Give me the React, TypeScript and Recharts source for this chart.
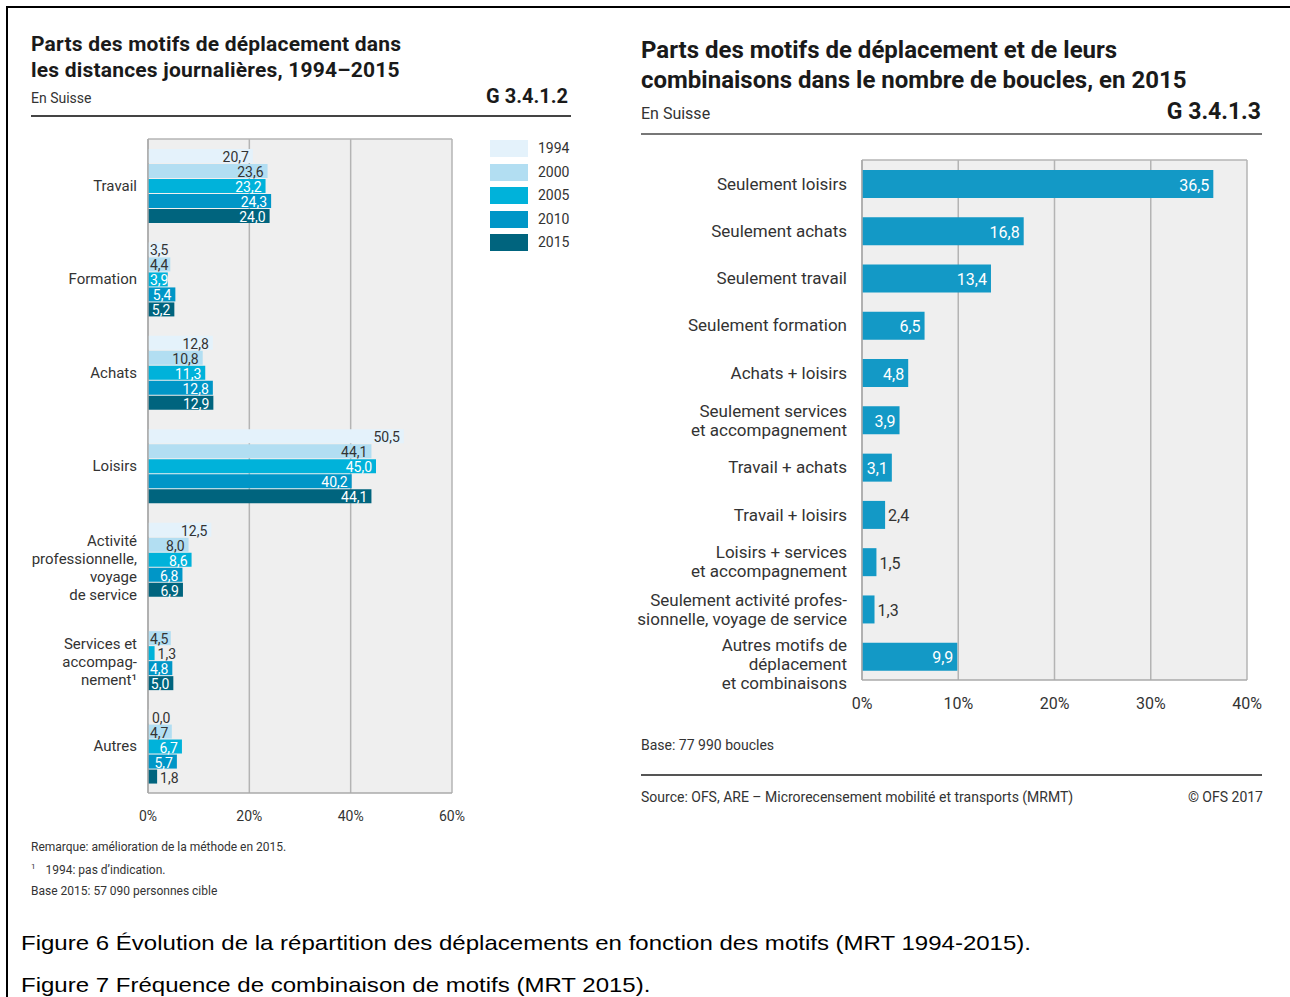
import React from 'react';
import { Bar, BarChart, CartesianGrid, LabelList, XAxis, YAxis } from 'recharts';

// G 3.4.1.2 – parts des motifs dans les distances journalières
const motifs = [
  'Travail',
  'Formation',
  'Achats',
  'Loisirs',
  'Activité\nprofessionnelle,\nvoyage\nde service',
  'Services et\naccompag-\nnement¹',
  'Autres',
];
const years = ['1994', '2000', '2005', '2010', '2015'];
const parts1994 = [20.7, 3.5, 12.8, 50.5, 12.5, null, 0.0];
const parts2000 = [23.6, 4.4, 10.8, 44.1, 8.0, 4.5, 4.7];
const parts2005 = [23.2, 3.9, 11.3, 45.0, 8.6, 1.3, 6.7];
const parts2010 = [24.3, 5.4, 12.8, 40.2, 6.8, 4.8, 5.7];
const parts2015 = [24.0, 5.2, 12.9, 44.1, 6.9, 5.0, 1.8];
const leftTicks = [0, 20, 40, 60];

// G 3.4.1.3 – motifs et combinaisons dans le nombre de boucles
const combinaisons = [
  'Seulement loisirs',
  'Seulement achats',
  'Seulement travail',
  'Seulement formation',
  'Achats + loisirs',
  'Seulement services\net accompagnement',
  'Travail + achats',
  'Travail + loisirs',
  'Loisirs + services\net accompagnement',
  'Seulement activité profes-\nsionnelle, voyage de service',
  'Autres motifs de\ndéplacement\net combinaisons',
];
const partsBoucles = [36.5, 16.8, 13.4, 6.5, 4.8, 3.9, 3.1, 2.4, 1.5, 1.3, 9.9];
const rightTicks = [0, 10, 20, 30, 40];

const yearColors = ['#e4f2fb', '#b2def2', '#00b2da', '#0096c7', '#00647e'];
const yearLabelFill = ['#333', '#333', '#fff', '#fff', '#fff'];
const bouclesColor = '#1399c6';

const FONT = 'Roboto, "DejaVu Sans", sans-serif';
const CAPTION_FONT = '"Liberation Sans", Arial, sans-serif';
const TEXT = '#333';

const seriesByYear = [parts1994, parts2000, parts2005, parts2010, parts2015];
const leftData = motifs.map((name, i) => {
  const row: Record<string, any> = { name };
  years.forEach((y, k) => (row['y' + y] = seriesByYear[k][i]));
  return row;
});
const rightData = combinaisons.map((name, i) => ({ name, value: partsBoucles[i] }));

function MultiLineTick(props: any) {
  const { x, y, payload, fontSize, lineHeight, shift } = props;
  const lines = String(payload.value).split('\n');
  const off = lines.length > 2 ? shift : 0;
  const startY = y - ((lines.length - 1) * lineHeight) / 2 + off;
  return (
    <text x={x} y={startY} textAnchor="end" fontSize={fontSize} fill={TEXT} fontFamily={FONT} dominantBaseline="central">
      {lines.map((l, i) => (
        <tspan key={i} x={x} y={startY + i * lineHeight}>{l}</tspan>
      ))}
    </text>
  );
}

// inside the bar end when it fits, pushed right when the bar is short, outside when tiny
function valueLabel(fill: string, fontSize: number, minInside: number) {
  return (props: any) => {
    const { x, y, width, height, value } = props;
    if (value == null) return null;
    const txt = Number(value).toFixed(1).replace('.', ',');
    const w = Number(width) || 0;
    const inside = w >= minInside;
    const textW = (txt.length - 1) * 0.56 * fontSize + 0.25 * fontSize;
    let tx = x + w + 3;
    let anchor = 'start';
    if (inside) {
      if (w - 4 >= textW + 2) {
        tx = x + w - 4;
        anchor = 'end';
      } else {
        tx = x + 2;
      }
    }
    return (
      <text
        x={tx}
        y={y + height / 2 + 1}
        textAnchor={anchor}
        dominantBaseline="central"
        fill={inside ? fill : TEXT}
        fontSize={fontSize}
        fontFamily={FONT}
      >
        {txt}
      </text>
    );
  };
}

const abs = (left: number, top: number, extra: React.CSSProperties = {}): React.CSSProperties => ({
  position: 'absolute', left, top, fontFamily: FONT, color: TEXT, whiteSpace: 'nowrap', ...extra,
});

function LeftChart() {
  return (
    <div style={{ position: 'absolute', left: 20, top: 130 }}>
      <BarChart width={450} height={693} data={leftData} layout="vertical" barSize={14} barGap={1}
        margin={{ top: 9, right: 18, bottom: 0, left: 0 }}>
        <CartesianGrid fill="#efefef" stroke="#b4b4b4" strokeWidth={1.5}
          horizontalCoordinatesGenerator={({ offset }: any) => [offset.top]} />
        <XAxis type="number" domain={[0, 60]} ticks={leftTicks} tickFormatter={v => `${v}%`}
          axisLine={{ stroke: '#aaa', strokeWidth: 1.5 }} tickLine={false} height={30} tickMargin={12}
          tick={{ fill: TEXT, fontSize: 14, fontFamily: FONT }} />
        <YAxis type="category" dataKey="name" width={128} axisLine={{ stroke: '#aaa', strokeWidth: 1.5 }}
          tickLine={false} tickSize={0} tickMargin={11} interval={0}
          tick={<MultiLineTick fontSize={15} lineHeight={18} shift={9} />} />
        {years.map((y, k) => (
          <Bar key={y} dataKey={'y' + y} fill={yearColors[k]} minPointSize={1} isAnimationActive={false}>
            <LabelList dataKey={'y' + y} content={valueLabel(yearLabelFill[k], 14, 12)} />
          </Bar>
        ))}
      </BarChart>
    </div>
  );
}

function RightChart() {
  return (
    <div style={{ position: 'absolute', left: 630, top: 150 }}>
      <BarChart width={640} height={580} data={rightData} layout="vertical" barSize={28}
        margin={{ top: 10, right: 23, bottom: 0, left: 0 }}>
        <CartesianGrid fill="#efefef" stroke="#b4b4b4" strokeWidth={1.5}
          horizontalCoordinatesGenerator={({ offset }: any) => [offset.top]} />
        <XAxis type="number" domain={[0, 40]} ticks={rightTicks} tickFormatter={v => `${v}%`}
          axisLine={{ stroke: '#aaa', strokeWidth: 1.5 }} tickLine={false} height={50} tickMargin={12}
          tick={{ fill: TEXT, fontSize: 16, fontFamily: FONT }} />
        <YAxis type="category" dataKey="name" width={232} axisLine={{ stroke: '#aaa', strokeWidth: 1.5 }}
          tickLine={false} tickSize={0} tickMargin={15} interval={0}
          tick={<MultiLineTick fontSize={17} lineHeight={19} shift={8} />} />
        <Bar dataKey="value" fill={bouclesColor} isAnimationActive={false}>
          <LabelList dataKey="value" content={valueLabel('#fff', 16, 25)} />
        </Bar>
      </BarChart>
    </div>
  );
}

export default function App() {
  const caption: React.CSSProperties = {
    fontFamily: CAPTION_FONT, fontSize: 21, lineHeight: '28px', color: '#000',
    transform: 'scaleX(1.144)', transformOrigin: 'left center',
  };
  return (
    <div style={{ position: 'absolute', left: 0, top: 0, width: 1290, height: 997, background: '#fff', overflow: 'hidden' }}>
      <div style={{ position: 'absolute', left: 6, top: 6, width: 1300, height: 1000, borderTop: '2px solid #000', borderLeft: '2px solid #000' }} />

      {/* left panel header */}
      <div style={abs(31, 31, { fontSize: 21, fontWeight: 700, letterSpacing: 0.2, lineHeight: '26px', color: '#1a1a1a' })}>
        Parts des motifs de déplacement dans<br />les distances journalières, 1994–2015
      </div>
      <div style={abs(31, 89, { fontSize: 14, lineHeight: '18px' })}>En Suisse</div>
      <div style={abs(420, 84, { width: 148, textAlign: 'right', fontSize: 20, fontWeight: 700, lineHeight: '24px', color: '#1a1a1a' })}>G 3.4.1.2</div>
      <div style={{ position: 'absolute', left: 31, top: 115, width: 540, height: 2, background: '#444' }} />

      <LeftChart />

      {years.map((y, k) => (
        <div key={y}>
          <div style={{ position: 'absolute', left: 490, top: 140 + k * 23.5, width: 38, height: 17, background: yearColors[k] }} />
          <div style={abs(538, 139 + k * 23.5, { fontSize: 14, lineHeight: '19px' })}>{y}</div>
        </div>
      ))}

      <div style={abs(31, 839, { fontSize: 12, lineHeight: '16px' })}>Remarque: amélioration de la méthode en 2015.</div>
      <div style={abs(31, 859, { fontSize: 12, lineHeight: '16px' })}>
        <sup style={{ fontSize: 8 }}>1</sup>
        <span style={{ marginLeft: 10 }}>1994: pas d’indication.</span>
      </div>
      <div style={abs(31, 883, { fontSize: 12, lineHeight: '16px' })}>Base 2015: 57 090 personnes cible</div>

      {/* right panel header */}
      <div style={abs(641, 35, { fontSize: 24, fontWeight: 700, lineHeight: '30px', color: '#1a1a1a' })}>
        Parts des motifs de déplacement et de leurs<br />combinaisons dans le nombre de boucles, en 2015
      </div>
      <div style={abs(641, 104, { fontSize: 16, lineHeight: '20px' })}>En Suisse</div>
      <div style={abs(1100, 98, { width: 161, textAlign: 'right', fontSize: 23, fontWeight: 700, lineHeight: '28px', color: '#1a1a1a' })}>G 3.4.1.3</div>
      <div style={{ position: 'absolute', left: 641, top: 133, width: 621, height: 2, background: '#777' }} />

      <RightChart />

      <div style={abs(641, 736, { fontSize: 14, lineHeight: '18px' })}>Base: 77 990 boucles</div>
      <div style={{ position: 'absolute', left: 641, top: 774, width: 621, height: 2, background: '#555' }} />
      <div style={abs(641, 788, { fontSize: 14, lineHeight: '18px' })}>Source: OFS, ARE – Microrecensement mobilité et transports (MRMT)</div>
      <div style={abs(1100, 788, { width: 163, textAlign: 'right', fontSize: 14, lineHeight: '18px' })}>© OFS 2017</div>

      {/* captions */}
      <div style={{ ...abs(21, 929), ...caption }}>
        Figure 6 Évolution de la répartition des déplacements en fonction des motifs (MRT 1994-2015).
      </div>
      <div style={{ ...abs(21, 971), ...caption }}>
        Figure 7 Fréquence de combinaison de motifs (MRT 2015).
      </div>
    </div>
  );
}
